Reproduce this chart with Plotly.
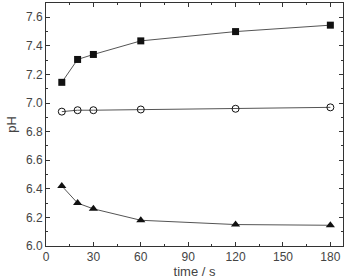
import plotly.graph_objects as go

time_s = [10, 20, 30, 60, 120, 180]
ph_square = [7.145, 7.305, 7.34, 7.435, 7.50, 7.545]
ph_circle = [6.94, 6.95, 6.95, 6.955, 6.96, 6.97]
ph_triangle = [6.42, 6.30, 6.26, 6.18, 6.15, 6.145]

x_ticks = [0, 30, 60, 90, 120, 150, 180]
y_ticks = [6.0, 6.2, 6.4, 6.6, 6.8, 7.0, 7.2, 7.4, 7.6]

line = dict(color="#555555", width=1)
fig = go.Figure()
fig.add_trace(go.Scatter(x=time_s, y=ph_square, mode="lines+markers", line=line,
                         marker=dict(symbol="square", size=7, color="#111111")))
fig.add_trace(go.Scatter(x=time_s, y=ph_circle, mode="lines+markers", line=line,
                         marker=dict(symbol="circle-open", size=7, color="#111111", line=dict(width=1))))
fig.add_trace(go.Scatter(x=time_s, y=ph_triangle, mode="lines+markers", line=line,
                         marker=dict(symbol="triangle-up", size=8, color="#111111")))

axis_common = dict(showgrid=False, zeroline=False, showline=True, linecolor="#333333", linewidth=1,
                   mirror="ticks", ticks="inside", ticklen=4, tickcolor="#333333", automargin=False,
                   tickfont=dict(family="Arial, Liberation Sans", size=12, color="#444444"))
fig.update_layout(
    width=346, height=279, margin=dict(l=46, r=3, t=3, b=33),
    paper_bgcolor="white", plot_bgcolor="white", showlegend=False,
    xaxis=dict(range=[0, 188], tickvals=x_ticks, ticktext=[str(v) for v in x_ticks],
               minor=dict(dtick=15, tick0=0, ticks="inside", ticklen=2, tickcolor="#333333"),
               title=dict(text="time / s", standoff=9,
                          font=dict(family="Arial, Liberation Sans", size=13, color="#444444")),
               **axis_common),
    yaxis=dict(range=[6.0, 7.7], tickvals=y_ticks, ticktext=[f"{v:.1f}" for v in y_ticks],
               minor=dict(dtick=0.1, tick0=6.0, ticks="inside", ticklen=2, tickcolor="#333333"),
               title=dict(text="pH", standoff=6,
                          font=dict(family="Arial, Liberation Sans", size=13, color="#444444")),
               **axis_common),
)
fig.write_html("out.html")
